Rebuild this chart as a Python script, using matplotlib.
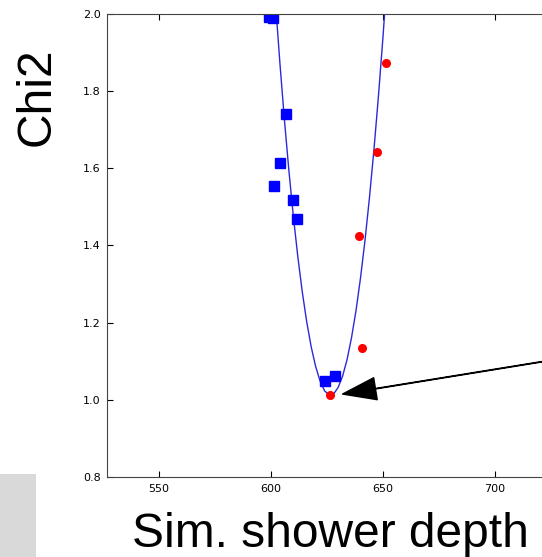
import matplotlib
matplotlib.use("Agg")
import matplotlib.pyplot as plt
from matplotlib.patches import Rectangle

# simulated depths (blue squares) and their chi2
sim_depth = [599.1, 600.9, 606.8, 604.0, 601.3, 610.0, 611.5, 624.1, 628.6]
sim_chi2 = [1.992, 1.989, 1.742, 1.614, 1.554, 1.518, 1.468, 1.049, 1.062]

# second set (red circles)
alt_depth = [626.6, 639.3, 640.5, 647.2, 651.6]
alt_chi2 = [1.012, 1.424, 1.135, 1.643, 1.873]

# fitted curve
fit_depth = [602, 604, 606, 608, 610, 612, 614, 616, 618, 620, 622, 624, 626,
             628, 630, 632, 634, 636, 638, 640, 642, 644, 646, 648, 650, 652]
fit_chi2 = [2.033, 1.874, 1.728, 1.596, 1.477, 1.372, 1.280, 1.202, 1.137,
            1.086, 1.048, 1.023, 1.013, 1.015, 1.032, 1.061, 1.104, 1.161,
            1.231, 1.315, 1.412, 1.523, 1.647, 1.785, 1.936, 2.100]

x_ticks = [550, 600, 650, 700]
y_ticks = [0.8, 1.0, 1.2, 1.4, 1.6, 1.8, 2.0]

fig = plt.figure(figsize=(5.42, 5.57), dpi=100)
fig.patches.append(Rectangle((0, 0), 0.0664, 0.149, transform=fig.transFigure,
                             facecolor="#d9d9d9", edgecolor="none", zorder=0))

ax = fig.add_axes([0.1983, 0.1436, 0.822, 0.8313])
ax.plot(fit_depth, fit_chi2, color="#2a2ad8", linewidth=1.0)
ax.plot(sim_depth, sim_chi2, "s", color="blue", markeredgecolor="blue",
        markersize=6.5)
ax.plot(alt_depth, alt_chi2, "o", color="red", markeredgecolor="red",
        markersize=5.5)

# arrow pointing at the minimum
ax.annotate("", xy=(632, 1.015), xytext=(800, 1.173),
            arrowprops=dict(facecolor="black", edgecolor="black", width=0.35,
                            headwidth=16, headlength=24, shrink=0.0))

ax.set_xlim(527, 726)
ax.set_ylim(0.8, 2.0)
ax.set_xticks(x_ticks)
ax.set_yticks(y_ticks)
ax.set_yticklabels([f"{v:.1f}" for v in y_ticks])
ax.tick_params(direction="in", top=True, right=True, labelsize=8, length=4,
               pad=5)
for sp in ax.spines.values():
    sp.set_color("#444444")

ax.set_xlabel("Sim. shower depth", fontsize=34.5, family="Liberation Sans",
              labelpad=13)
ax.set_ylabel("Chi2", fontsize=34.5, family="Liberation Sans")
ax.yaxis.set_label_coords(-0.108, 0.822)

fig.savefig("out.png", dpi=100)
